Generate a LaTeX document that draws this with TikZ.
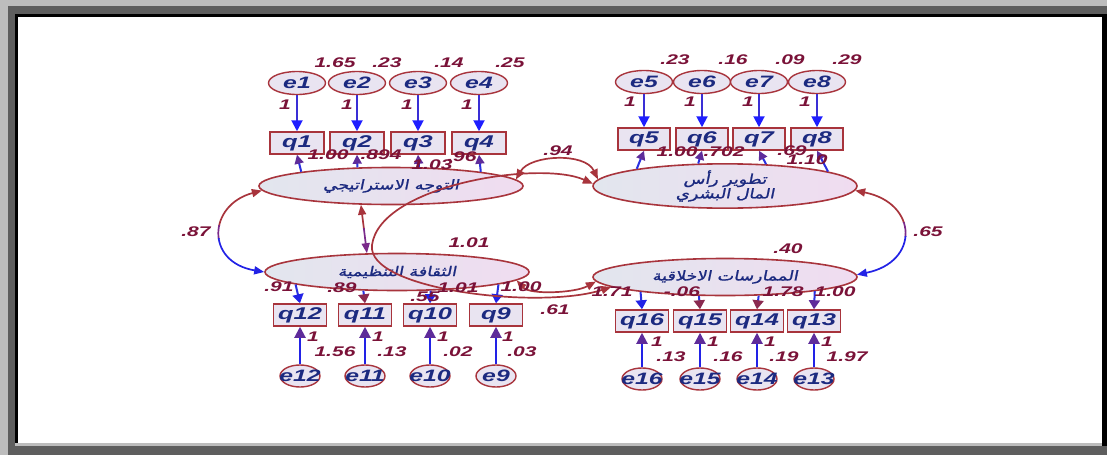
\documentclass[tikz,border=0pt]{standalone}
\usepackage{fontspec}
\usetikzlibrary{arrows.meta,shapes.geometric}
\TeXXeTstate=1
\newfontfamily\lblfont{Liberation Sans}[FakeStretch=1.5]
\newfontfamily\arabicfont[Script=Arabic,FakeSlant=0.2,FakeStretch=1.3,FakeBold=1.2]{DejaVu Sans}
\definecolor{nred}{HTML}{A8343C}
\definecolor{numc}{HTML}{7A1238}
\definecolor{navy}{HTML}{1C2A80}
\definecolor{fillq}{HTML}{E9E4F1}
\definecolor{latl}{HTML}{E2E6EE}
\definecolor{latr}{HTML}{F0DCF0}
\definecolor{lineb}{HTML}{3A2FD6}
\definecolor{tipb}{HTML}{1E1EFF}
\definecolor{lineb2}{HTML}{2A30E0}
\definecolor{tipp}{HTML}{5E2C9A}
\definecolor{tipr}{HTML}{8A2A50}
\definecolor{purp}{HTML}{7A2A8A}
\definecolor{bluec}{HTML}{2222E6}
\definecolor{lgray}{HTML}{BDBDBD}
\definecolor{dgray}{HTML}{5E5E5E}
\tikzset{
  num/.style={font=\lblfont\bfseries\itshape\fontsize{14}{15}\selectfont, text=numc, inner sep=0pt},
  qbox/.style={rectangle, draw=nred, line width=1.5pt, fill=fillq, minimum width=53pt, minimum height=22pt, inner sep=0pt, font=\lblfont\bfseries\itshape\fontsize{17}{18}\selectfont, text=navy},
  errt/.style={ellipse, draw=nred, line width=1.4pt, fill=fillq, minimum width=57pt, minimum height=23pt, inner sep=0pt, font=\lblfont\bfseries\itshape\fontsize{16.5}{17}\selectfont, text=navy},
  errb/.style={errt, minimum width=40pt, minimum height=22pt},
  lat/.style={ellipse, draw=nred, line width=1.6pt, left color=latl, right color=latr, minimum width=264pt, minimum height=37pt, inner sep=0pt, font=\arabicfont\fontsize{13.5}{13}\selectfont, text=navy, align=center},
  eq/.style={line width=2pt, draw=lineb, -{Triangle[length=11pt,width=11pt,color=tipb]}},
  eqb/.style={line width=2pt, draw=bluec, -{Triangle[length=11pt,width=11pt,color=tipp]}},
  fq/.style={line width=2pt, draw=lineb2, -{Triangle[length=9pt,width=9pt,color=tipp]}},
  fqb/.style={line width=2pt, draw=lineb2, -{Triangle[length=9pt,width=11pt,color=#1]}},
  cov/.style={line width=1.7pt, {Triangle[length=10pt,width=8pt]}-{Triangle[length=10pt,width=8pt]}},
}
\begin{document}
\begin{tikzpicture}[x=1pt,y=-1pt]
\useasboundingbox (0,0) rectangle (1107,455);
% frame
\fill[lgray] (0,0) rectangle (1107,455);
\fill[dgray] (8,6) rectangle (1107,455);
\fill[black] (15,14) rectangle (1107,446);
\fill[white] (18,17) rectangle (1102,443);
\fill[lgray] (15,443) rectangle (1102,445.5);
% latent factors
\node[lat] (TL) at (391,186) {\beginR التوجه الاستراتيجي\endR};
\node[lat] (TR) at (725,186) {\beginR تطوير رأس\endR\\\beginR المال البشري\endR};
\node[lat] (BL) at (397,272) {\beginR الثقافة التنظيمية\endR};
\node[lat] (BR) at (725,277) {\beginR الممارسات الاخلاقية\endR};
% observed
\node[qbox, minimum width=54pt] (q1) at (297,143) {q1};
\node[qbox, minimum width=54pt] (q2) at (357,143) {q2};
\node[qbox, minimum width=54pt] (q3) at (418,143) {q3};
\node[qbox, minimum width=54pt] (q4) at (479,143) {q4};
\node[qbox, minimum width=52pt] (q5) at (644,139) {q5};
\node[qbox, minimum width=52pt] (q6) at (702,139) {q6};
\node[qbox, minimum width=52pt] (q7) at (759,139) {q7};
\node[qbox, minimum width=52pt] (q8) at (817,139) {q8};
\node[qbox] (q12) at (300,315) {q12};
\node[qbox] (q11) at (365,315) {q11};
\node[qbox] (q10) at (430,315) {q10};
\node[qbox] (q9) at (496,315) {q9};
\node[qbox] (q16) at (642,321) {q16};
\node[qbox] (q15) at (700,321) {q15};
\node[qbox] (q14) at (757,321) {q14};
\node[qbox] (q13) at (814,321) {q13};
% errors
\node[errt] (e1) at (297,83) {\makebox[0pt]{e1}};
\node[errt] (e2) at (357,83) {\makebox[0pt]{e2}};
\node[errt] (e3) at (418,83) {\makebox[0pt]{e3}};
\node[errt] (e4) at (479,83) {\makebox[0pt]{e4}};
\node[errt] (e5) at (644,82) {\makebox[0pt]{e5}};
\node[errt] (e6) at (702,82) {\makebox[0pt]{e6}};
\node[errt] (e7) at (759,82) {\makebox[0pt]{e7}};
\node[errt] (e8) at (817,82) {\makebox[0pt]{e8}};
\node[errb] (e12) at (300,376) {\makebox[0pt]{e12}};
\node[errb] (e11) at (365,376) {\makebox[0pt]{e11}};
\node[errb] (e10) at (430,376) {\makebox[0pt]{e10}};
\node[errb] (e9) at (496,376) {\makebox[0pt]{e9}};
\node[errb] (e16) at (642,379) {\makebox[0pt]{e16}};
\node[errb] (e15) at (700,379) {\makebox[0pt]{e15}};
\node[errb] (e14) at (757,379) {\makebox[0pt]{e14}};
\node[errb] (e13) at (814,379) {\makebox[0pt]{e13}};
% error -> indicator
\draw[eq] (e1) -- (q1); \draw[eq] (e2) -- (q2); \draw[eq] (e3) -- (q3); \draw[eq] (e4) -- (q4);
\draw[eq] (e5) -- (q5); \draw[eq] (e6) -- (q6); \draw[eq] (e7) -- (q7); \draw[eq] (e8) -- (q8);
\draw[eqb] (e12) -- (q12); \draw[eqb] (e11) -- (q11); \draw[eqb] (e10) -- (q10); \draw[eqb] (e9) -- (q9);
\draw[eqb] (e16) -- (q16); \draw[eqb] (e15) -- (q15); \draw[eqb] (e14) -- (q14); \draw[eqb] (e13) -- (q13);
% factor -> indicator
\draw[fq] (TL.171.9) -- (q1.south); \draw[fq] (TL.151.6) -- (q2.south);
\draw[fq] (TL.34.6) -- (q3.south); \draw[fq] (TL.9.2) -- (q4.south);
\draw[fq] (TR.169.5) -- (q5.south); \draw[fq] (TR.140.9) -- (q6.south);
\draw[fq] (TR.28.4) -- (q7.south); \draw[fq] (TR.8.5) -- (q8.south);
\draw[fqb=bluec] (BL.187.6) -- (q12.north); \draw[fqb=tipr] (BL.209.9) -- (q11.north);
\draw[fqb=bluec] (BL.-29.1) -- (q10.north); \draw[fqb=bluec] (BL.-7.3) -- (q9.north);
\draw[fqb=bluec] (BR.190.1) -- (q16.north); \draw[fqb=tipr] (BR.216.8) -- (q15.north);
\draw[fqb=tipr] (BR.-29.9) -- (q14.north); \draw[fqb=tipp] (BR.-9) -- (q13.north);
% covariance TL-BL (left)
\begin{scope}\clip (150,140) rectangle (320,225);
\draw[cov, color=nred] (TL.182) .. controls (208,205) and (205,262) .. (BL.180);\end{scope}
\begin{scope}\clip (150,225) rectangle (320,238);
\draw[cov, color=purp] (TL.182) .. controls (208,205) and (205,262) .. (BL.180);\end{scope}
\begin{scope}\clip (150,238) rectangle (320,310);
\draw[cov, color=bluec] (TL.182) .. controls (208,205) and (205,262) .. (BL.180);\end{scope}
% covariance TR-BR (right)
\begin{scope}\clip (840,140) rectangle (990,222);
\draw[cov, color=nred] (TR.-2) .. controls (918,203) and (920,262) .. (BR.1);\end{scope}
\begin{scope}\clip (840,222) rectangle (990,236);
\draw[cov, color=purp] (TR.-2) .. controls (918,203) and (920,262) .. (BR.1);\end{scope}
\begin{scope}\clip (840,236) rectangle (990,310);
\draw[cov, color=bluec] (TR.-2) .. controls (918,203) and (920,262) .. (BR.1);\end{scope}
% straight TL-BL
\begin{scope}\clip (330,190) rectangle (400,228);
\draw[cov, color=nred] (TL.212.5) -- (BL.148.3);\end{scope}
\begin{scope}\clip (330,228) rectangle (400,270);
\draw[cov, color=purp] (TL.212.5) -- (BL.148.3);\end{scope}
% TL-TR arc
\draw[cov, color=nred] (TL.3.3) .. controls (530,155) and (585,152) .. (TR.177);
% big S curve TR-BR
\draw[cov, color=nred] (TR.179) .. controls (540,160) and (380,185) .. (372,245) .. controls (366,290) and (540,310) .. (BR.185);
% BL-BR arc
\draw[cov, color=nred] (BL.-4.5) .. controls (530,295) and (575,293) .. (BR.182);
% labels top-left
\node[num] (v1) at (335,63) {1.65}; \node[num] (v2) at (387,63) {.23};
\node[num] (v3) at (449,63) {.14}; \node[num] (v4) at (510,63) {.25};
\node[num] (o1) at (285,105) {1}; \node[num] (o2) at (347,105) {1};
\node[num] (o3) at (407,105) {1}; \node[num] (o4) at (467,105) {1};
\node[num] (l1) at (328,155) {1.00}; \node[num] (l2) at (381,155) {.894};
\node[num] (l3) at (432,165) {1.03}; \node[num] (l4) at (462,157) {.96};
% labels top-right
\node[num] (v5) at (675,60) {.23}; \node[num] (v6) at (733,60) {.16};
\node[num] (v7) at (790,60) {.09}; \node[num] (v8) at (847,60) {.29};
\node[num] (o5) at (630,102) {1}; \node[num] (o6) at (690,102) {1};
\node[num] (o7) at (748,102) {1}; \node[num] (o8) at (805,102) {1};
\node[num] (l5) at (677,152) {1.00}; \node[num] (l6) at (724,152) {.702};
\node[num] (l8) at (807,160) {1.10}; \node[num] (l7) at (792,151) {.69};
% covariance labels
\node[num] (c1) at (558,151) {.94};
\node[num] (c2) at (196,232) {.87};
\node[num] (c3) at (928,232) {.65};
\node[num] (c4) at (469,243) {1.01};
\node[num] (c5) at (788,249) {.40};
\node[num] (c6) at (555,310) {.61};
% labels bottom-left
\node[num] (l12) at (279,287) {.91}; \node[num] (l11) at (342,288) {.89};
\node[num] (l10) at (425,297) {.55}; \node[num] (l9b) at (458,288) {1.01};
\node[num] (l9) at (521,287) {1.00};
\node[num] (o12) at (313,337) {1}; \node[num] (o11) at (378,337) {1};
\node[num] (o10) at (443,337) {1}; \node[num] (o9) at (508,337) {1};
\node[num] (v12) at (335,352) {1.56}; \node[num] (v11) at (392,352) {.13};
\node[num] (v10) at (458,352) {.02}; \node[num] (v9) at (522,352) {.03};
% labels bottom-right
\node[num] (l16) at (612,292) {1.71}; \node[num] (l15) at (682,292) {-.06};
\node[num] (l14) at (783,292) {1.78}; \node[num] (l13) at (835,292) {1.00};
\node[num] (o16) at (657,342) {1}; \node[num] (o15) at (713,342) {1};
\node[num] (o14) at (770,342) {1}; \node[num] (o13) at (827,342) {1};
\node[num] (v16) at (671,357) {.13}; \node[num] (v15) at (728,357) {.16};
\node[num] (v14) at (784,357) {.19}; \node[num] (v13) at (847,357) {1.97};
\end{tikzpicture}
\end{document}
